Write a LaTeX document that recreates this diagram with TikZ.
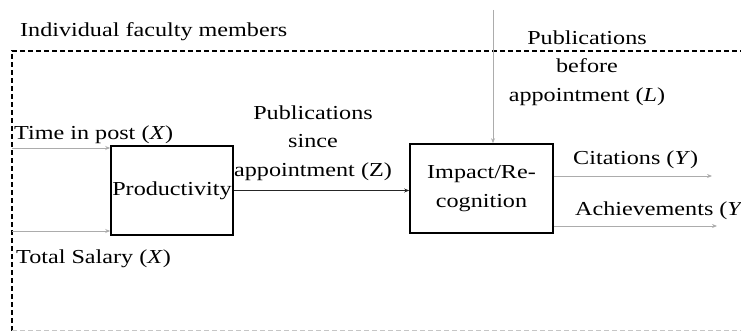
\documentclass[tikz,border=0pt]{standalone}
\usepackage{fontspec}
\setmainfont[FakeStretch=1.22]{Liberation Serif}
\usetikzlibrary{arrows.meta}
\begin{document}
\begin{tikzpicture}[x=1pt, y=-1pt,
    every node/.style={font=\fontsize{19.8}{28.5}\selectfont, inner sep=0pt},
    stage/.style={draw, line width=1.6pt, minimum height=89pt, align=center},
    feed/.style={draw=gray!65, line width=0.8pt, -{Stealth[length=5pt,width=4pt]}},
    link/.style={draw=black!85, line width=1pt, -{Stealth[length=5pt,width=4pt]}}]
    \useasboundingbox (0,0) rectangle (741,331);

    % unit of analysis
    \draw[line width=1.6pt, dash pattern=on 5pt off 3pt] (12,331) -- (12,51) -- (760,51);
    \draw[gray!45, line width=1pt, dash pattern=on 5pt off 3pt] (12,330) -- (760,330);
    \node[anchor=base west] (unit) at (20,37) {Individual faculty members};

    % the two stages
    \node[stage, minimum width=122pt] (prod) at (172,190.5) {Productivity};
    \node[stage, minimum width=143pt] (impact) at (481.5,188.5) {Impact/Re-\\cognition};

    % inputs
    \coordinate (tip) at (12,148);
    \coordinate (sal) at (12,231);
    \draw[feed] (tip) -- (tip -| prod.west);
    \draw[feed] (sal) -- (sal -| prod.west);
    \node[anchor=base west] (time) at (14,140) {Time in post (\textit{X})};
    \node[anchor=base west] (salary) at (16,263) {Total Salary (\textit{X})};

    % mediator
    \draw[link] (prod.east) -- (impact.west |- prod.east);
    \node[align=center] (since) at (313,143) {Publications\\since\\appointment (Z)};

    % prior record
    \coordinate (prior) at (493,10);
    \draw[feed] (prior) -- (impact.north -| prior);
    \node[align=center] (before) at (587,68) {Publications\\before\\appointment (\textit{L})};

    % outcomes
    \coordinate (cite) at (712,176);
    \coordinate (ach) at (717,226);
    \draw[feed] (impact.east |- cite) -- (cite);
    \draw[feed] (impact.east |- ach) -- (ach);
    \node[anchor=base west] (citations) at (573,165) {Citations (\textit{Y})};
    \node[anchor=base west] (achieve) at (575,215) {Achievements (\textit{Y})};
\end{tikzpicture}
\end{document}
